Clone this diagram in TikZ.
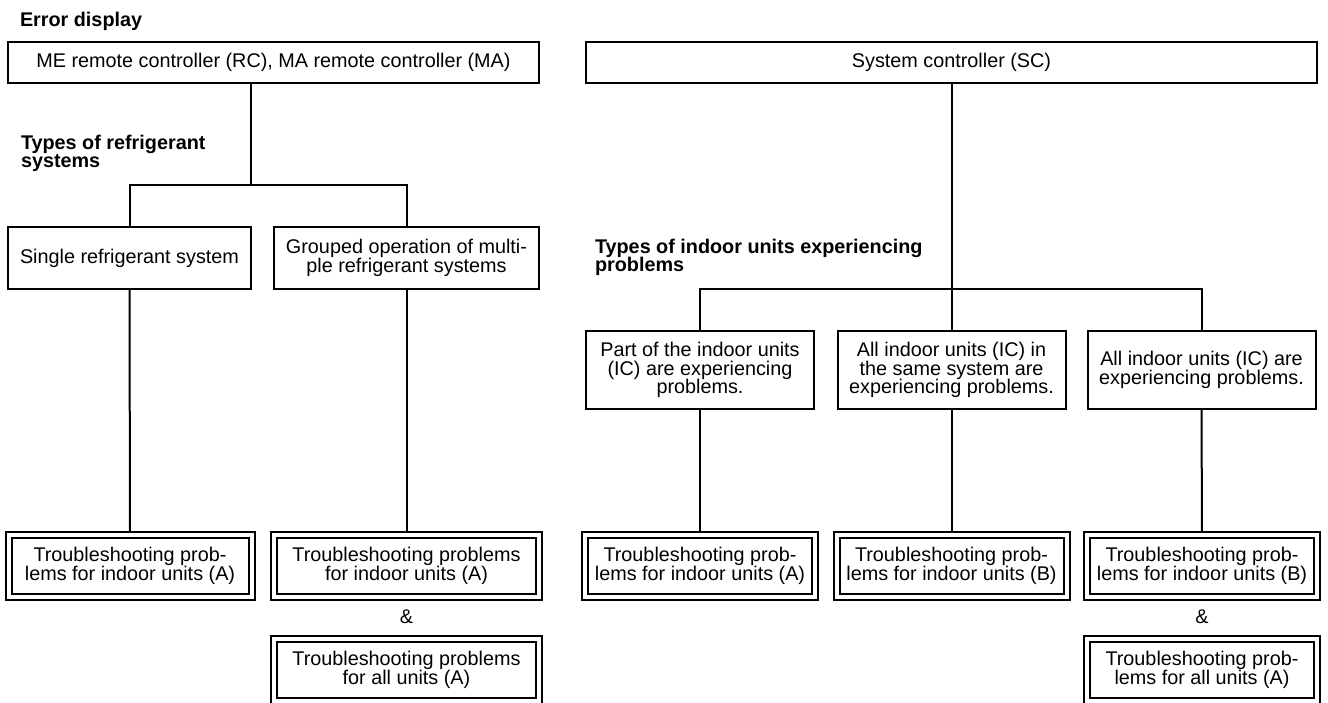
\documentclass[tikz,border=0pt]{standalone}
\usepackage{fontspec}
\setmainfont{Liberation Sans}
\newcommand{\boxfont}{\fontsize{9.9}{9.2}\selectfont\lineskiplimit=-4pt\relax}

\begin{document}
\begin{tikzpicture}[x=0.5pt,y=-0.5pt,line width=1pt,
        box/.style={draw,align=center,inner sep=1pt,font=\boxfont,minimum height=31pt},
        result/.style={box,double,double distance=2pt},
        heading/.style={anchor=north west,align=left,inner sep=0pt,font=\boxfont\bfseries},
        link/.style={shorten >=1.2pt}]
        \useasboundingbox (0,0) rectangle (1328,702);
        \node[heading] (title) at (19,11) {Error display};
        \node[box,minimum width=265.5pt,minimum height=20.5pt] (rc) at (273.5,62.5)
          {ME remote controller (RC), MA remote controller (MA)};
        \node[box,minimum width=365.5pt,minimum height=20.5pt] (sc) at (951.5,62.5)
          {System controller (SC)};

        \node[heading] (reftypes) at (20,134) {Types of refrigerant\\systems};
        \node[box,minimum width=121.5pt] (single) at (129.5,258) {Single refrigerant system};
        \node[box,minimum width=132.5pt] (grouped) at (406.5,258)
          {Grouped operation of multi-\\ple refrigerant systems};
        \coordinate (jl) at (251,185);
        \draw (rc.south -| jl) -- (jl);
        \draw (single.north) |- (jl) -| (grouped.north);

        \node[result,minimum width=121.5pt] (resA1) at (130,566)
          {Troubleshooting prob-\\lems for indoor units (A)};
        \node[result,minimum width=132.5pt] (resA2) at (406.5,566)
          {Troubleshooting problems\\for indoor units (A)};
        \node[font=\boxfont,inner sep=0pt] (amp1) at (406.5,617) {\&};
        \node[result,minimum width=132.5pt] (resA3) at (406.5,670)
          {Troubleshooting problems\\for all units (A)};
        \draw[link] (single.south) -- (resA1.north);
        \draw[link] (grouped.south) -- (resA2.north);

        \node[heading] (unittypes) at (594,238) {Types of indoor units experiencing\\problems};
        \node[box,minimum width=114pt,minimum height=39pt] (part) at (700,370)
          {Part of the indoor units\\(IC) are experiencing\\problems.};
        \node[box,minimum width=114pt,minimum height=39pt] (same) at (951.5,370)
          {All indoor units (IC) in\\the same system are\\experiencing problems.};
        \node[box,minimum width=114pt,minimum height=39pt] (all) at (1201.5,370)
          {All indoor units (IC) are\\experiencing problems.};
        \coordinate (jr) at (951.5,289);
        \draw (sc.south) -- (same.north);
        \draw (part.north) |- (jr) -| (all.north);

        \node[result,minimum width=115pt] (resB1) at (700,566)
          {Troubleshooting prob-\\lems for indoor units (A)};
        \node[result,minimum width=115pt] (resB2) at (951.5,566)
          {Troubleshooting prob-\\lems for indoor units (B)};
        \node[result,minimum width=115pt] (resB3) at (1202,566)
          {Troubleshooting prob-\\lems for indoor units (B)};
        \node[font=\boxfont,inner sep=0pt] (amp2) at (1202,617) {\&};
        \node[result,minimum width=115pt] (resB4) at (1202,670)
          {Troubleshooting prob-\\lems for all units (A)};
        \draw[link] (part.south) -- (resB1.north);
        \draw[link] (same.south) -- (resB2.north);
        \draw[link] (all.south) -- (resB3.north);
      \end{tikzpicture}
\end{document}
